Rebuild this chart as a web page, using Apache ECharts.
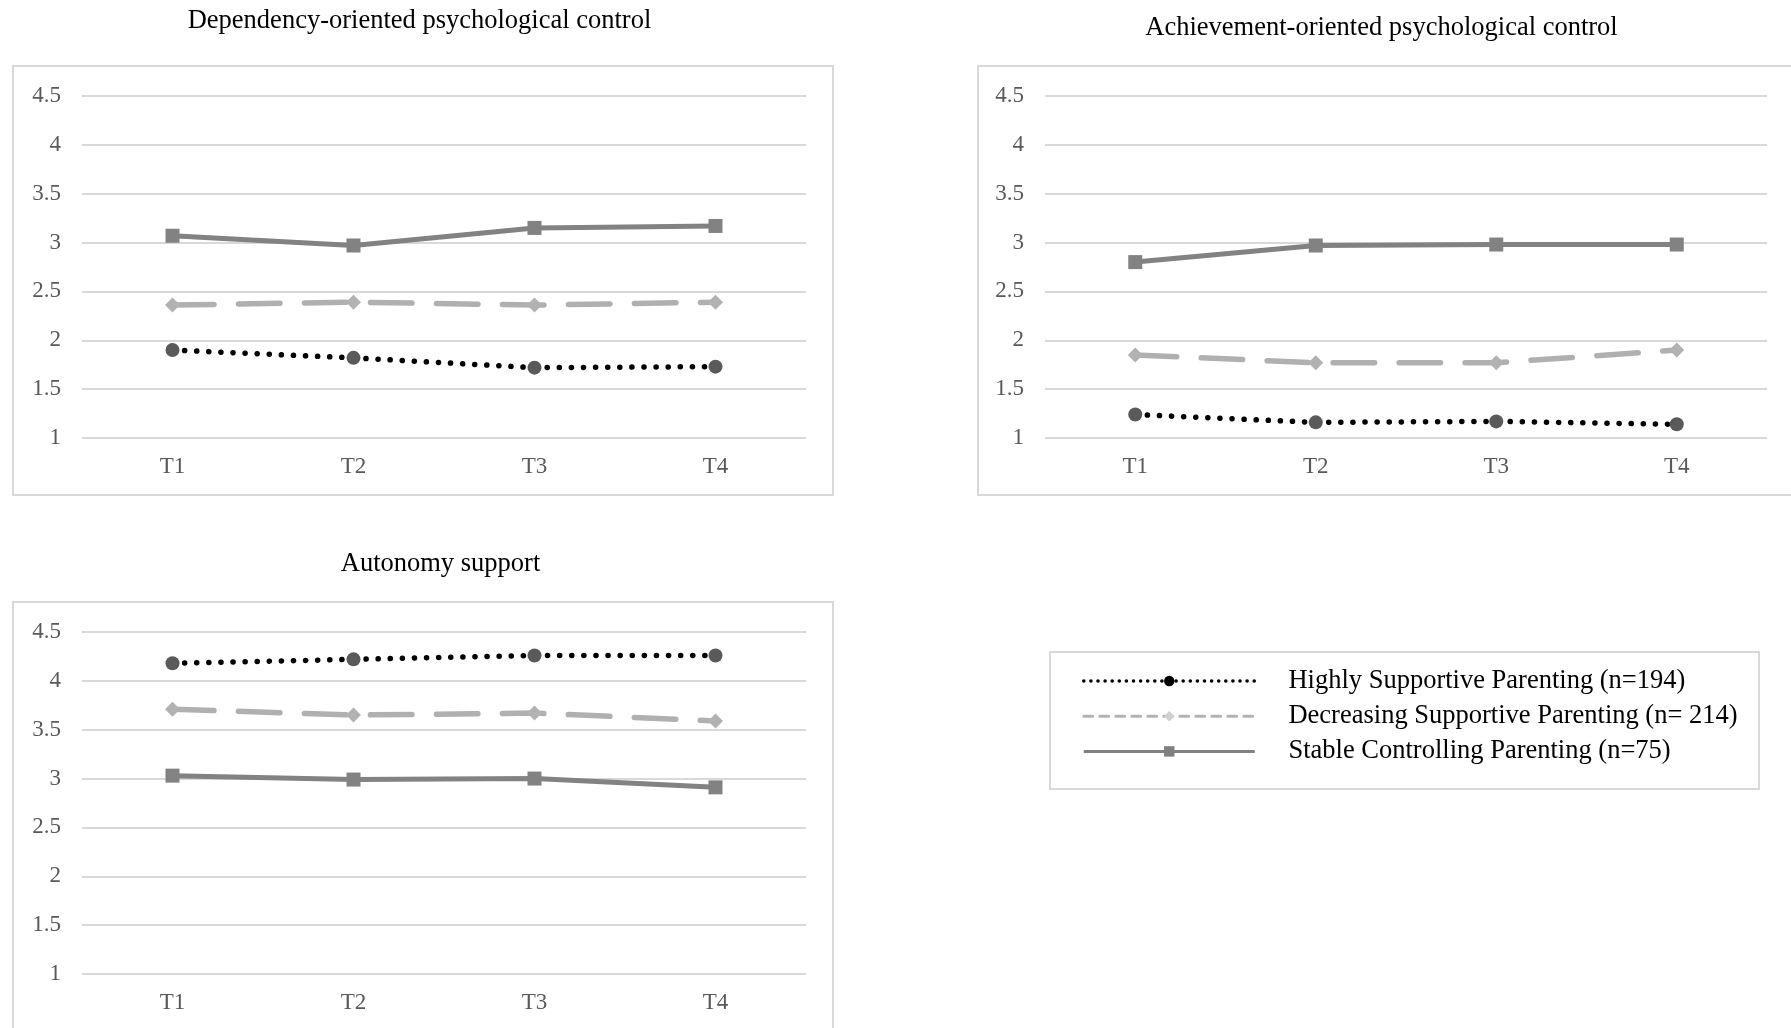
<!DOCTYPE html>
<html>
<head>
<meta charset="utf-8">
<script src="https://cdn.jsdelivr.net/npm/echarts@6/dist/echarts.min.js"></script>
<style>
html,body{margin:0;padding:0;background:#fff;}
#chart{width:1791px;height:1028px;}
</style>
</head>
<body>
<div id="chart"></div>
<script>
// ---- data ----
var categories = ['T1', 'T2', 'T3', 'T4'];
var panelTitles = ['Dependency-oriented psychological control', 'Achievement-oriented psychological control', 'Autonomy support'];
var seriesNames = ['Highly Supportive Parenting (n=194)', 'Decreasing Supportive Parenting (n= 214)', 'Stable Controlling Parenting (n=75)'];
var yTicks = [1, 1.5, 2, 2.5, 3, 3.5, 4, 4.5];

// Dependency-oriented psychological control
var depHighly = [1.90, 1.82, 1.72, 1.73];
var depDecreasing = [2.36, 2.39, 2.36, 2.39];
var depStable = [3.07, 2.97, 3.15, 3.17];
// Achievement-oriented psychological control
var achHighly = [1.24, 1.16, 1.17, 1.14];
var achDecreasing = [1.85, 1.77, 1.77, 1.90];
var achStable = [2.80, 2.97, 2.98, 2.98];
// Autonomy support
var autHighly = [4.18, 4.22, 4.26, 4.26];
var autDecreasing = [3.71, 3.65, 3.67, 3.59];
var autStable = [3.03, 2.99, 3.00, 2.91];

var panelData = [
  [depHighly, depDecreasing, depStable],
  [achHighly, achDecreasing, achStable],
  [autHighly, autDecreasing, autStable]
];

// ---- styles ----
var FONT = '"Liberation Serif", "Times New Roman", serif';
var grids = [
  {left: 82, top: 96, width: 724, height: 342},
  {left: 1045, top: 96, width: 722, height: 342},
  {left: 82, top: 632, width: 724, height: 342}
];
var titlePos = [
  {x: 414.5, y: 16.5},
  {x: 1376.5, y: 23.5},
  {x: 435.5, y: 559}
];
var boxes = [
  {x: 13, y: 66, w: 820, h: 429},
  {x: 978, y: 66, w: 830, h: 429},
  {x: 13, y: 602, w: 820, h: 450},
  {x: 1050, y: 652, w: 709, h: 137}
];

var seriesStyle = [
  {
    symbol: 'circle', symbolSize: 14,
    itemStyle: {color: '#5a5a5a'},
    lineStyle: {color: '#000000', width: 5.5, type: [0.1, 12], cap: 'round'}
  },
  {
    symbol: 'diamond', symbolSize: 15,
    itemStyle: {color: '#b2b2b2'},
    lineStyle: {color: '#b0b0b0', width: 5.5, type: [41.5, 24.5], cap: 'round'}
  },
  {
    symbol: 'rect', symbolSize: 14,
    itemStyle: {color: '#828282'},
    lineStyle: {color: '#828282', width: 5, type: 'solid'}
  }
];

var option = {
  backgroundColor: '#ffffff',
  animation: false,
  title: panelTitles.map(function (t, i) {
    return {
      text: t,
      left: titlePos[i].x,
      top: titlePos[i].y,
      textAlign: 'center',
      textVerticalAlign: 'middle',
      textStyle: {fontFamily: FONT, fontSize: 26.5, fontWeight: 'normal', color: '#000000'}
    };
  }),
  graphic: boxes.map(function (b) {
    return {
      type: 'rect', z: -1, silent: true,
      shape: {x: b.x, y: b.y, width: b.w, height: b.h},
      style: {fill: 'none', stroke: '#d9d9d9', lineWidth: 2}
    };
  }),
  legend: {
    left: 1077, top: 662.5,
    orient: 'vertical',
    itemWidth: 171, itemHeight: 13,
    itemGap: 8.2,
    textStyle: {fontFamily: FONT, fontSize: 26.5, color: '#000000', lineHeight: 26, padding: [0, 0, 0, 28.7]},
    data: [
      {name: seriesNames[0], itemStyle: {color: '#000000'}, lineStyle: {color: '#000000', width: 3.5, type: [0.1, 7], cap: 'round'}},
      {name: seriesNames[1], itemStyle: {color: '#d0d0d0'}, lineStyle: {color: '#b4b4b4', width: 3, type: [9, 7]}},
      {name: seriesNames[2], itemStyle: {color: '#808080'}, lineStyle: {color: '#808080', width: 3, type: 'solid'}}
    ]
  },
  grid: grids.map(function (g) {
    return {left: g.left, top: g.top, width: g.width, height: g.height, containLabel: false};
  }),
  xAxis: grids.map(function (g, i) {
    return {
      type: 'category', gridIndex: i, data: categories, boundaryGap: true,
      axisLine: {show: false}, axisTick: {show: false},
      axisLabel: {fontFamily: FONT, fontSize: 23, color: '#595959', margin: 17}
    };
  }),
  yAxis: grids.map(function (g, i) {
    return {
      type: 'value', gridIndex: i, min: yTicks[0], max: yTicks[yTicks.length - 1], interval: 0.5,
      axisLine: {show: false}, axisTick: {show: false},
      splitLine: {lineStyle: {color: '#d9d9d9', width: 2}},
      axisLabel: {fontFamily: FONT, fontSize: 23, color: '#595959', margin: 21}
    };
  }),
  series: []
};

panelData.forEach(function (arrs, p) {
  arrs.forEach(function (vals, s) {
    var st = seriesStyle[s];
    option.series.push({
      type: 'line', name: seriesNames[s],
      xAxisIndex: p, yAxisIndex: p,
      data: vals,
      symbol: st.symbol, symbolSize: st.symbolSize,
      itemStyle: st.itemStyle, lineStyle: st.lineStyle,
      z: 10 - s
    });
  });
});

var chart = echarts.init(document.getElementById('chart'), null, {renderer: 'canvas'});
chart.setOption(option);
</script>
</body>
</html>
